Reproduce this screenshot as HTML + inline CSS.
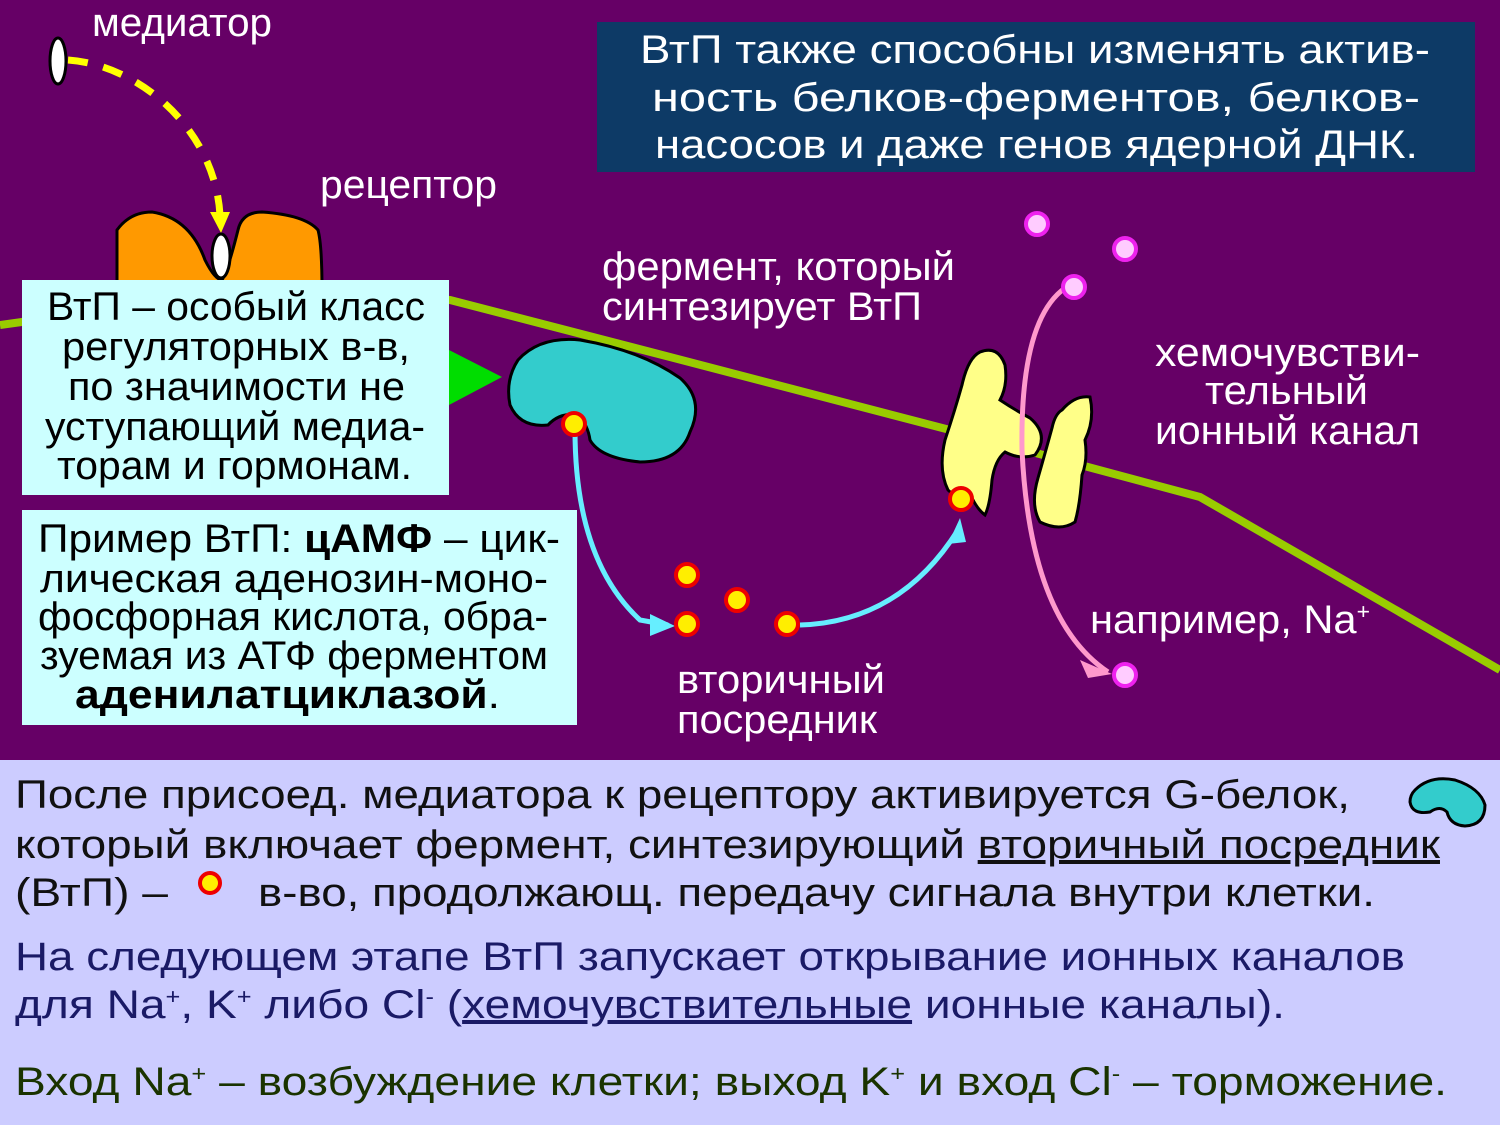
<!DOCTYPE html>
<html><head><meta charset="utf-8"><style>
body{margin:0;width:1500px;height:1125px;overflow:hidden;background:#660066}
svg{display:block}
text{font-family:"Liberation Sans",sans-serif}
</style></head><body>
<svg width="1500" height="1125" viewBox="0 0 1500 1125">
<rect width="1500" height="760" fill="#660066"/>
<rect y="760" width="1500" height="365" fill="#ccccff"/>
<!-- membrane -->
<polyline points="0,325 230,293 450,300 670,357 950,430 1200,497 1500,670" fill="none" stroke="#99cc00" stroke-width="8"/>
<!-- top box -->
<rect x="597" y="22" width="878" height="150" fill="#0d3a66"/>
<g fill="#fff" font-size="40" lengthAdjust="spacingAndGlyphs">
<text x="640" y="63" textLength="790" lengthAdjust="spacingAndGlyphs">ВтП также способны изменять актив-</text>
<text x="652" y="111" textLength="768" lengthAdjust="spacingAndGlyphs">ность белков-ферментов, белков-</text>
<text x="655" y="158" textLength="763" lengthAdjust="spacingAndGlyphs">насосов и даже генов ядерной ДНК.</text>
</g>
<!-- labels -->
<g fill="#fff" font-size="40">
<text x="92" y="36" textLength="180" lengthAdjust="spacingAndGlyphs">медиатор</text>
<text x="320" y="198" textLength="177" lengthAdjust="spacingAndGlyphs">рецептор</text>
<text x="602" y="280" textLength="353" lengthAdjust="spacingAndGlyphs">фермент, который</text>
<text x="602" y="320" textLength="320" lengthAdjust="spacingAndGlyphs">синтезирует ВтП</text>
<text x="1155" y="366" textLength="265" lengthAdjust="spacingAndGlyphs">хемочувстви-</text>
<text x="1205" y="404" textLength="163" lengthAdjust="spacingAndGlyphs">тельный</text>
<text x="1155" y="444" textLength="265" lengthAdjust="spacingAndGlyphs">ионный канал</text>
<text x="1090" y="633" textLength="280" lengthAdjust="spacingAndGlyphs">например, Na<tspan font-size="22" dy="-14">+</tspan></text>
<text x="677" y="693" textLength="208" lengthAdjust="spacingAndGlyphs">вторичный</text>
<text x="677" y="733" textLength="200" lengthAdjust="spacingAndGlyphs">посредник</text>
</g>
<!-- mediator -->
<ellipse cx="58" cy="61" rx="8" ry="23" fill="#fff" stroke="#000" stroke-width="3"/>
<path d="M68,60 C140,65 215,130 220,215" fill="none" stroke="#ffff00" stroke-width="7" stroke-dasharray="20,16"/>
<polygon points="210,212 230,212 221,233" fill="#ffff00"/>
<!-- receptor -->
<path d="M117,230 Q130,212 152,212 Q190,218 205,260 Q215,280 222,280 Q228,270 238,230 Q242,212 262,212 Q305,215 318,230 Q322,245 322,290 L117,290 Z" fill="#ff9900" stroke="#000" stroke-width="3"/>
<ellipse cx="221" cy="256" rx="9" ry="22" fill="#fff" stroke="#000" stroke-width="3"/>
<!-- green triangle -->
<polygon points="449,350 502,377 449,405" fill="#00dd00"/>
<!-- enzyme -->
<path d="M518,360 Q540,336 580,340 Q640,350 680,378 Q705,400 690,432 Q680,462 640,462 Q600,458 590,440 Q588,425 578,415 Q560,412 548,425 Q520,428 510,405 Q505,380 518,360 Z" fill="#33cccc" stroke="#000" stroke-width="3"/>
<!-- ion channel -->
<path d="M980,352 Q998,345 1005,365 Q1008,385 1000,400 Q1015,410 1030,418 Q1050,435 1035,455 Q1020,460 1005,452 Q995,460 992,480 Q990,505 985,515 Q978,510 972,498 Q958,500 948,490 Q938,470 945,440 Q955,410 962,385 Q968,358 980,352 Z" fill="#ffff88" stroke="#000" stroke-width="3"/>
<path d="M1062,410 Q1075,395 1090,397 Q1095,420 1085,440 Q1088,460 1082,475 Q1080,505 1075,522 Q1060,532 1040,522 Q1030,505 1038,478 Q1046,450 1052,428 Q1055,414 1062,410 Z" fill="#ffff88" stroke="#000" stroke-width="3"/>
<!-- pink arrow -->
<path d="M1065,288 Q1020,320 1022,450 Q1030,620 1108,672" fill="none" stroke="#ff99cc" stroke-width="5"/>
<polygon points="1112,674 1080,660 1088,678" fill="#ff99cc"/>
<g fill="#ffccff" stroke="#ee22ee" stroke-width="4">
<circle cx="1037" cy="224" r="11"/><circle cx="1125" cy="249" r="11"/><circle cx="1074" cy="287" r="11"/><circle cx="1125" cy="675" r="11"/>
</g>
<!-- cyan arrows -->
<path d="M575,430 Q575,560 640,620 L668,625" fill="none" stroke="#66eeff" stroke-width="5"/>
<polygon points="675,626 650,614 650,636" fill="#66eeff"/>
<path d="M800,625 Q900,622 958,530" fill="none" stroke="#66eeff" stroke-width="5"/>
<polygon points="960,518 948,544 966,542" fill="#66eeff"/>
<!-- dots -->
<g fill="#ffee00" stroke="#ee0000" stroke-width="4">
<circle cx="574" cy="424" r="11"/><circle cx="687" cy="575" r="11"/><circle cx="737" cy="600" r="11"/><circle cx="687" cy="624" r="11"/><circle cx="787" cy="624" r="11"/><circle cx="961" cy="499" r="11"/>
<circle cx="210" cy="883" r="10"/>
</g>
<!-- left boxes -->
<rect x="22" y="280" width="427" height="215" fill="#ccffff"/>
<g fill="#000" font-size="40">
<text x="47" y="320" textLength="378" lengthAdjust="spacingAndGlyphs">ВтП – особый класс</text>
<text x="62" y="360" textLength="348" lengthAdjust="spacingAndGlyphs">регуляторных в-в,</text>
<text x="68" y="400" textLength="337" lengthAdjust="spacingAndGlyphs">по значимости не</text>
<text x="45" y="440" textLength="380" lengthAdjust="spacingAndGlyphs">уступающий медиа-</text>
<text x="57" y="479" textLength="355" lengthAdjust="spacingAndGlyphs">торам и гормонам.</text>
</g>
<rect x="22" y="510" width="555" height="215" fill="#ccffff"/>
<g fill="#000" font-size="40">
<text x="38" y="552" textLength="522" lengthAdjust="spacingAndGlyphs">Пример ВтП: <tspan font-weight="bold">цАМФ</tspan> – цик-</text>
<text x="40" y="592" textLength="508" lengthAdjust="spacingAndGlyphs">лическая аденозин-моно-</text>
<text x="38" y="630" textLength="510" lengthAdjust="spacingAndGlyphs">фосфорная кислота, обра-</text>
<text x="40" y="669" textLength="508" lengthAdjust="spacingAndGlyphs">зуемая из АТФ ферментом</text>
<text x="75" y="708" textLength="425" lengthAdjust="spacingAndGlyphs"><tspan font-weight="bold">аденилатциклазой</tspan>.</text>
</g>
<!-- bottom text -->
<g font-size="40">
<text x="15" y="808" fill="#111" textLength="1335" lengthAdjust="spacingAndGlyphs">После присоед. медиатора к рецептору активируется G-белок,</text>
<text x="15" y="858" fill="#111" textLength="1425" lengthAdjust="spacingAndGlyphs">который включает фермент, синтезирующий <tspan text-decoration="underline">вторичный посредник</tspan></text>
<text x="15" y="906" fill="#111" textLength="153" lengthAdjust="spacingAndGlyphs">(ВтП) –</text>
<text x="258" y="906" fill="#111" textLength="1117" lengthAdjust="spacingAndGlyphs">в-во, продолжающ. передачу сигнала внутри клетки.</text>
<text x="15" y="970" fill="#1a1a66" textLength="1390" lengthAdjust="spacingAndGlyphs">На следующем этапе ВтП запускает открывание ионных каналов</text>
<text x="15" y="1018" fill="#1a1a66" textLength="1270" lengthAdjust="spacingAndGlyphs">для Na<tspan font-size="22" dy="-14">+</tspan><tspan dy="14">, K</tspan><tspan font-size="22" dy="-14">+</tspan><tspan dy="14"> либо Cl</tspan><tspan font-size="22" dy="-14">-</tspan><tspan dy="14"> (</tspan><tspan text-decoration="underline">хемочувствительные</tspan> ионные каналы).</text>
<text x="15" y="1095" fill="#1a3300" textLength="1432" lengthAdjust="spacingAndGlyphs">Вход Na<tspan font-size="22" dy="-14">+</tspan><tspan dy="14"> – возбуждение клетки; выход K</tspan><tspan font-size="22" dy="-14">+</tspan><tspan dy="14"> и вход Cl</tspan><tspan font-size="22" dy="-14">-</tspan><tspan dy="14"> – торможение.</tspan></text>
</g>
<path d="M1415,790 Q1430,775 1455,780 Q1480,788 1485,805 Q1485,825 1465,826 Q1450,825 1447,812 Q1440,805 1430,812 Q1412,815 1410,802 Q1410,795 1415,790 Z" fill="#33cccc" stroke="#000" stroke-width="3"/>
</svg>
</body></html>
